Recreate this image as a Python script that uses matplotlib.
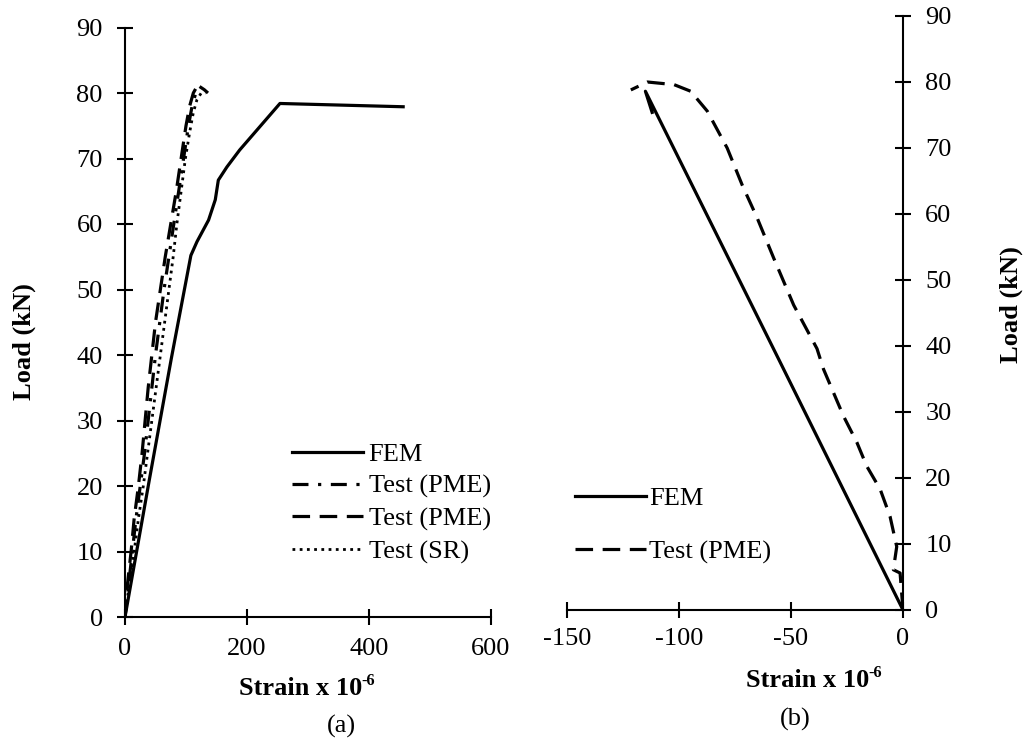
import matplotlib
matplotlib.use("Agg")
import matplotlib.pyplot as plt
from matplotlib.ticker import FuncFormatter

plt.rcParams['font.family'] = ['Liberation Serif', 'DejaVu Serif']
plt.rcParams['axes.unicode_minus'] = False

# ---------------- data: panel (a) ----------------
fem_a_x = [0, 40, 76, 108, 118, 137, 148, 153, 167, 188, 254, 456]
fem_a_y = [0, 21, 39.5, 55.2, 57.3, 60.6, 63.7, 66.7, 68.7, 71.3, 78.4, 77.9]

pme1_a_x = [0, 6, 12, 18, 25, 32, 38, 44, 50, 57, 64, 72, 80, 88, 96, 104, 110, 116, 122, 130, 136]
pme1_a_y = [0, 5, 10, 15, 20, 25, 30, 35, 40, 45, 50, 55, 60, 65, 70, 75, 78, 80, 81, 80.5, 80]

pme2_a_x = [0, 4, 10, 15, 22, 28, 33, 38, 44, 50, 58, 66, 75, 84, 92, 100, 106, 112, 118, 123]
pme2_a_y = [0, 5, 10, 15, 20, 25, 30, 35, 40, 45, 50, 55, 60, 65, 70, 75, 78, 80, 81, 80.5]

sr_a_x = [0, 7, 15, 22, 30, 37, 44, 51, 58, 65, 72, 79, 85, 92, 99, 106, 112, 118, 125, 132]
sr_a_y = [0, 5, 10, 15, 20, 25, 30, 35, 40, 45, 50, 55, 60, 65, 70, 74, 77, 79, 80, 80]

# ---------------- data: panel (b) ----------------
fem_b_x = [0, -55.5, -115, -112]
fem_b_y = [0, 38.0, 78.6, 75.4]

pme_b_x = [0, -1.3, -4.3, -2.8, -5.8, -10.2, -16.2, -20.6, -26.6, -35.5, -38.4, -48.8,
           -57.7, -65.1, -71.8, -78.5, -87.4, -94.8, -102.2, -114.1, -121.5]
pme_b_y = [0, 5.6, 6.1, 9.6, 14.2, 18.3, 21.8, 25.4, 29.4, 36.5, 39.6, 46.2,
           53.3, 59.4, 64.4, 70.0, 75.6, 78.6, 79.6, 80.0, 78.8]

labels_a = ['FEM', 'Test (PME)', 'Test (PME)', 'Test (SR)']
labels_b = ['FEM', 'Test (PME)']
x_title = 'Strain x 10'
x_title_sup = '-6'
y_title = 'Load (kN)'

W, H = 1024, 738
fig = plt.figure(figsize=(W / 100, H / 100), dpi=100)

def fx(px):
    return px / W

def fy(py):
    return 1 - py / H

FS = 19
LW = 2.3
hyphen_fmt = FuncFormatter(lambda v, p: ('%g' % v).replace('\u2212', '-'))

# panel (a)
ax1 = fig.add_axes([fx(125), fy(617), (491 - 125) / W, (617 - 27.5) / H])
ax1.plot(fem_a_x, fem_a_y, color='black', lw=LW, ls='-', label=labels_a[0])
ax1.plot(pme1_a_x, pme1_a_y, color='black', lw=LW, ls=(0, (5, 3, 1, 3)), label=labels_a[1])
ax1.plot(pme2_a_x, pme2_a_y, color='black', lw=LW, ls=(0, (5.5, 3)), label=labels_a[2])
ax1.plot(sr_a_x, sr_a_y, color='black', lw=2.0, ls=(0, (1, 1.6)), label=labels_a[3])
ax1.set_xlim(0, 600)
ax1.set_ylim(0, 90)
ax1.set_xticks([0, 200, 400, 600])
ax1.set_yticks(range(0, 91, 10))
ax1.xaxis.set_major_formatter(hyphen_fmt)
ax1.spines['top'].set_visible(False)
ax1.spines['right'].set_visible(False)
for s in ('left', 'bottom'):
    ax1.spines[s].set_linewidth(1.5)
ax1.tick_params(axis='both', direction='inout', length=12, width=1.5, labelsize=FS)
ax1.tick_params(axis='y', pad=10)
ax1.tick_params(axis='x', pad=9)
ax1.patch.set_alpha(0)

ax1.legend(loc='center left', bbox_to_anchor=(fx(292), fy(503)),
           bbox_transform=fig.transFigure, frameon=False, fontsize=FS,
           handlelength=2.7, handletextpad=0.2, labelspacing=0.33,
           borderpad=0, borderaxespad=0)

# panel (b)
ax2 = fig.add_axes([fx(567), fy(610), (903 - 567) / W, (610 - 16) / H])
ax2.plot(fem_b_x, fem_b_y, color='black', lw=LW, ls='-', label=labels_b[0])
ax2.plot(pme_b_x, pme_b_y, color='black', lw=LW, ls=(0, (5.5, 3)), label=labels_b[1])
ax2.set_xlim(-150, 0)
ax2.set_ylim(0, 90)
ax2.set_xticks([-150, -100, -50, 0])
ax2.set_yticks(range(0, 91, 10))
ax2.xaxis.set_major_formatter(hyphen_fmt)
ax2.yaxis.tick_right()
ax2.spines['top'].set_visible(False)
ax2.spines['left'].set_visible(False)
for s in ('right', 'bottom'):
    ax2.spines[s].set_linewidth(1.5)
ax2.tick_params(axis='both', direction='inout', length=12, width=1.5, labelsize=FS)
ax2.tick_params(axis='y', pad=10)
ax2.tick_params(axis='x', pad=7)
ax2.patch.set_alpha(0)

ax2.legend(loc='center left', bbox_to_anchor=(fx(575), fy(525)),
           bbox_transform=fig.transFigure, frameon=False, fontsize=FS,
           handlelength=2.7, handletextpad=0.1, labelspacing=1.14,
           borderpad=0, borderaxespad=0)

# axis titles (with superscript drawn as a separate smaller text)
renderer = fig.canvas.get_renderer()

def strain_title(cx, base_py):
    main = fig.text(0, fy(base_py), x_title, ha='left', va='baseline',
                    fontsize=FS, fontweight='bold')
    sup = fig.text(0, fy(base_py - 10), x_title_sup, ha='left', va='baseline',
                   fontsize=FS * 0.62, fontweight='bold')
    w_main = main.get_window_extent(renderer).width
    w_sup = sup.get_window_extent(renderer).width
    left = cx - (w_main + w_sup) / 2
    main.set_x(fx(left))
    sup.set_x(fx(left + w_main))

strain_title(307, 695)
strain_title(814, 687)

fig.text(fx(24), fy(342), y_title, ha='center', va='center', rotation=90,
         fontsize=FS, fontweight='bold')
fig.text(fx(1011), fy(305), y_title, ha='center', va='center', rotation=90,
         fontsize=FS, fontweight='bold')
fig.text(fx(341), fy(733), '(a)', ha='center', va='baseline', fontsize=FS)
fig.text(fx(795), fy(726), '(b)', ha='center', va='baseline', fontsize=FS)

fig.savefig('out.png', dpi=100)
